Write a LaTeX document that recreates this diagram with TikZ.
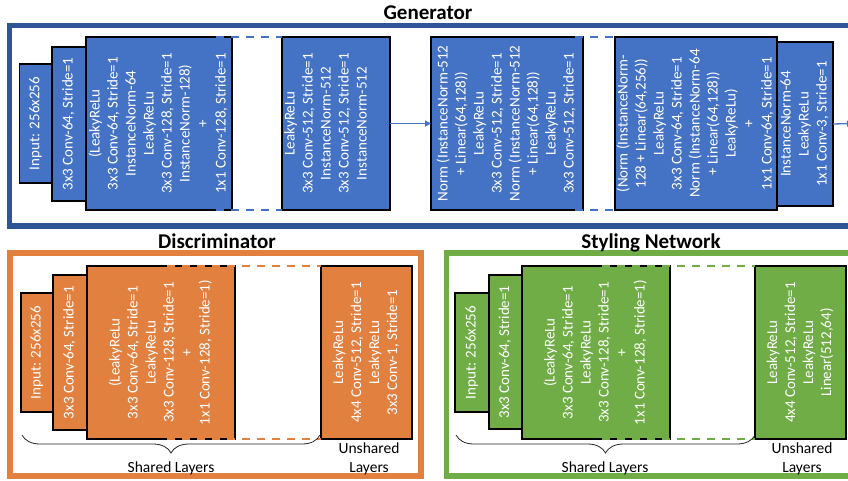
\documentclass[tikz,border=0pt]{standalone}
\usepackage{fontspec}
\setmainfont{Carlito}
\usepackage{graphicx}
\usetikzlibrary{arrows.meta,decorations.pathreplacing,calc}
\definecolor{gfill}{RGB}{68,114,196}
\definecolor{gframe}{RGB}{47,85,151}
\definecolor{dfill}{RGB}{226,128,64}
\definecolor{sfill}{RGB}{112,173,71}
\newcommand{\rottext}[1]{\rotatebox{90}{\begin{tabular}{@{}c@{}}#1\end{tabular}}}
\begin{document}
\begin{tikzpicture}[x=1pt,y=-1pt,
  blk/.style={draw=black, line width=1.8pt, inner sep=0pt, outer sep=0pt, text=white,
    font=\fontsize{15}{18}\selectfont},
  gblk/.style={blk, fill=gfill},
  dblk/.style={blk, fill=dfill},
  sblk/.style={blk, fill=sfill},
  frame/.style={line width=5.5pt},
  title/.style={font=\bfseries\fontsize{21}{25}\selectfont, anchor=base},
  lbl/.style={font=\fontsize{15.5}{19}\selectfont, anchor=base},
  dashline/.style={line width=2pt, dash pattern=on 8pt off 7pt},
  brc/.style={decorate, decoration={brace, amplitude=18pt, mirror}, line width=0.8pt, draw=black!85},
  garrow/.style={draw=gfill, line width=1.3pt, -{Triangle[length=6pt,width=6pt]}}
]
\useasboundingbox (0,0) rectangle (848,481);

% ---------------- Generator ----------------
\draw[frame, draw=gframe] (9.5,25.5) rectangle (870,226);
\node[title] (gt) at (428,19.5) {Generator};
\node[gblk, minimum width=32.5pt, minimum height=119pt] (g1) at (35.75,123.5) {\rottext{Input: 256x256}};
\node[gblk, minimum width=34pt, minimum height=154pt] (g2) at (69,124) {\rottext{3x3 Conv-64, Stride=1}};
\node[gblk, minimum width=146pt, minimum height=173pt] (g3) at (159,123.5) {\rottext{(LeakyReLu\\3x3 Conv-64, Stride=1\\InstanceNorm-64\\LeakyReLu\\3x3 Conv-128, Stride=1\\InstanceNorm-128)\\+\\1x1 Conv-128, Stride=1}};
\node[gblk, minimum width=104pt, minimum height=173pt] (g4) at (336,123.5) {\rottext{LeakyReLu\\3x3 Conv-512, Stride=1\\InstanceNorm-512\\3x3 Conv-512, Stride=1\\InstanceNorm-512\\\mbox{}}};
\node[gblk, minimum width=152pt, minimum height=173pt] (g5) at (507,123.5) {\rottext{Norm (InstanceNorm-512\\+ Linear(64,128))\\LeakyReLu\\3x3 Conv-512, Stride=1\\Norm (InstanceNorm-512\\+ Linear(64,128))\\LeakyReLu\\3x3 Conv-512, Stride=1}};
\node[gblk, minimum width=162pt, minimum height=173pt] (g6) at (696,123.5) {\rottext{(Norm (InstanceNorm-\\128 + Linear(64,256))\\LeakyReLu\\3x3 Conv-64, Stride=1\\Norm (InstanceNorm-64\\+ Linear(64,128))\\LeakyReLu)\\+\\1x1 Conv-64, Stride=1}};
\node[gblk, minimum width=56pt, minimum height=164pt] (g7) at (805,124) {\rottext{InstanceNorm-64\\LeakyReLu\\1x1 Conv-3, Stride=1}};
\draw[dashline, draw=gfill] ($(g3.north east)+(-16,0)$) -- (g4.north west);
\draw[dashline, draw=gfill] ($(g3.south east)+(-16,0)$) -- (g4.south west);
\draw[dashline, draw=gfill] ($(g5.north east)+(-8,0)$) -- (g6.north west);
\draw[dashline, draw=gfill] ($(g5.south east)+(-8,0)$) -- (g6.south west);
\draw[garrow] (g4.east) -- (g5.west);
\coordinate (gout) at (853,123.5);
\draw[garrow] (g7.east) -- (gout);

% ---------------- Discriminator ----------------
\draw[frame, draw=dfill] (10,253) rectangle (421,476);
\node[title] (dt) at (217,248) {Discriminator};
\node[dblk, minimum width=32pt, minimum height=119pt] (d1) at (37,352.5) {\rottext{Input: 256x256}};
\node[dblk, minimum width=34pt, minimum height=155pt] (d2) at (70,352.5) {\rottext{3x3 Conv-64, Stride=1}};
\node[dblk, minimum width=148pt, minimum height=173pt] (d3) at (161,352.5) {\rottext{(LeakyReLu\\3x3 Conv-64, Stride=1\\LeakyReLu\\3x3 Conv-128, Stride=1\\+\\1x1 Conv-128, Stride=1)}};
\node[dblk, minimum width=91pt, minimum height=173pt] (d4) at (366.5,352.5) {\rottext{LeakyReLu\\4x4 Conv-512, Stride=1\\LeakyReLu\\3x3 Conv-1, Stride=1}};
\draw[dashline, draw=dfill] ($(d3.north east)+(-68,0)$) -- (d4.north west);
\draw[dashline, draw=dfill] ($(d3.south east)+(-68,0)$) -- (d4.south west);
\coordinate (dbl) at (22,435);
\coordinate (dbr) at (320,435);
\draw[brc] (dbl) -- (dbr);
\node[lbl] (dsl) at (171,472) {Shared Layers};
\node[lbl] (dul1) at (369,453) {Unshared};
\node[lbl] (dul2) at (369,472) {Layers};

% ---------------- Styling Network ----------------
\draw[frame, draw=sfill] (446.5,253) rectangle (870,476);
\node[title] (st) at (651,248) {Styling Network};
\node[sblk, minimum width=34pt, minimum height=119pt] (s1) at (472,352.5) {\rottext{Input: 256x256}};
\node[sblk, minimum width=33pt, minimum height=154pt] (s2) at (505.5,352) {\rottext{3x3 Conv-64, Stride=1}};
\node[sblk, minimum width=148pt, minimum height=173pt] (s3) at (596,352.5) {\rottext{(LeakyReLu\\3x3 Conv-64, Stride=1\\LeakyReLu\\3x3 Conv-128, Stride=1\\+\\1x1 Conv-128, Stride=1)}};
\node[sblk, minimum width=91pt, minimum height=173pt] (s4) at (800.5,352.5) {\rottext{LeakyReLu\\4x4 Conv-512, Stride=1\\LeakyReLu\\Linear(512,64)}};
\draw[dashline, draw=sfill] ($(s3.north east)+(-68,0)$) -- (s4.north west);
\draw[dashline, draw=sfill] ($(s3.south east)+(-68,0)$) -- (s4.south west);
\coordinate (sbl) at (456,435);
\coordinate (sbr) at (755,435);
\draw[brc] (sbl) -- (sbr);
\node[lbl] (ssl) at (605,472) {Shared Layers};
\node[lbl] (sul1) at (802,453) {Unshared};
\node[lbl] (sul2) at (802,472) {Layers};
\end{tikzpicture}
\end{document}
